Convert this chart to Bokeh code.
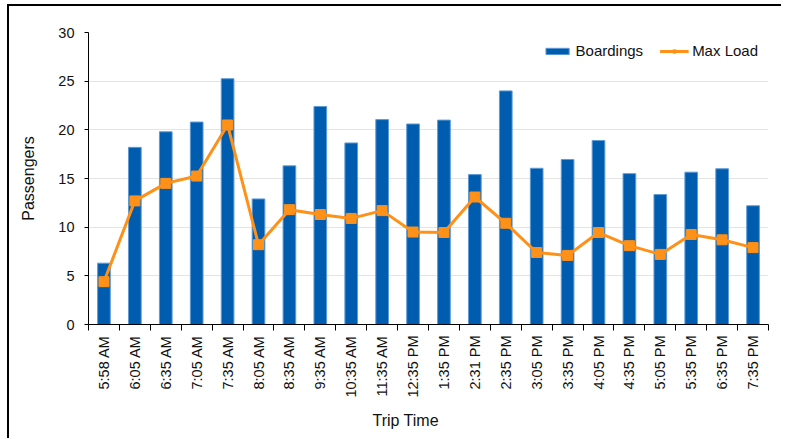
import numpy as np
from bokeh.plotting import figure
from bokeh.models import (FixedTicker, Legend, LegendItem, Range1d, Title)
from bokeh.embed import file_html
from bokeh.resources import INLINE

trip_times = ["5:58 AM", "6:05 AM", "6:35 AM", "7:05 AM", "7:35 AM", "8:05 AM",
              "8:35 AM", "9:35 AM", "10:35 AM", "11:35 AM", "12:35 PM", "1:35 PM",
              "2:31 PM", "2:35 PM", "3:05 PM", "3:35 PM", "4:05 PM", "4:35 PM",
              "5:05 PM", "5:35 PM", "6:35 PM", "7:35 PM"]
boardings = [6.3, 18.2, 19.8, 20.8, 25.25, 12.9, 16.3, 22.4, 18.65, 21.05, 20.6,
             21.0, 15.4, 24.0, 16.05, 16.95, 18.9, 15.5, 13.35, 15.65, 16.0, 12.2]
max_load = [4.4, 12.7, 14.5, 15.25, 20.5, 8.2, 11.8, 11.3, 10.9, 11.7, 9.5,
            9.45, 13.1, 10.4, 7.4, 7.1, 9.45, 8.1, 7.2, 9.25, 8.7, 7.9]
y_ticks = [0, 5, 10, 15, 20, 25, 30]

n = len(trip_times)
xc = np.arange(n) + 0.5

BLUE = "#005CAE"
ORANGE = "#FF9018"
FONT = "Liberation Sans"

p = figure(width=774, height=434, output_backend="svg", toolbar_location=None,
           x_range=Range1d(0, n), y_range=Range1d(0, 30),
           min_border_left=79, min_border_top=26, min_border_right=15,
           min_border_bottom=116)
p.styles = {"border-top": "2px solid #000", "border-left": "2px solid #000",
            "margin-top": "4px", "margin-left": "7px"}
p.outline_line_color = None
p.background_fill_color = "white"

bars = p.vbar(x=xc, top=boardings, width=0.41, fill_color=BLUE,
              line_color="#5E9BD6", line_width=1)
ln = p.line(xc, max_load, line_color=ORANGE, line_width=3)
sq = p.scatter(xc, max_load, marker="square", size=10, fill_color=ORANGE,
               line_color=ORANGE)

# x axis
xa = p.xaxis[0]
xa.ticker = FixedTicker(ticks=list(xc), minor_ticks=list(range(n + 1)))
xa.major_label_overrides = {float(x): t for x, t in zip(xc, trip_times)}
xa.major_label_orientation = np.pi / 2
xa.major_tick_out = 0
xa.major_tick_in = 0
xa.minor_tick_out = 6
xa.minor_tick_in = 0
xa.minor_tick_line_color = "black"
xa.axis_line_color = "black"
xa.major_label_standoff = 5
xa.major_label_text_font = FONT
xa.major_label_text_font_size = "14.5px"
xa.major_label_text_color = "#111"

# y axis
ya = p.yaxis[0]
ya.ticker = FixedTicker(ticks=y_ticks, minor_ticks=[])
ya.major_tick_out = 4
ya.major_tick_in = 0
ya.major_tick_line_color = "black"
ya.axis_line_color = "black"
ya.major_label_standoff = 10
ya.major_label_text_font = FONT
ya.major_label_text_font_size = "14.5px"
ya.major_label_text_color = "#111"
ya.axis_label = "Passengers"
ya.axis_label_text_font = FONT
ya.axis_label_text_font_size = "16px"
ya.axis_label_text_font_style = "normal"
ya.axis_label_text_color = "#111"
ya.axis_label_standoff = 18

p.xgrid.visible = False
p.ygrid.ticker = FixedTicker(ticks=y_ticks)
p.ygrid.grid_line_color = "#C8C8C8"
p.ygrid.grid_line_dash = "1 1"
p.ygrid.grid_line_width = 1

p.add_layout(Title(text="Trip Time", align="left", offset=284,
                   text_font=FONT, text_font_size="16px",
                   text_font_style="normal", text_color="#111",
                   standoff=19), "below")

legend = Legend(items=[LegendItem(label="Boardings", renderers=[bars]),
                       LegendItem(label="Max Load", renderers=[ln, sq])],
                orientation="horizontal", location="top_right",
                border_line_color=None, background_fill_alpha=0,
                glyph_width=29, glyph_height=8, label_standoff=4, spacing=16,
                padding=0, margin=10, label_text_font=FONT,
                label_text_font_size="15px", label_text_color="#111")
p.add_layout(legend)

open("out.html", "w").write(file_html(p, INLINE))
